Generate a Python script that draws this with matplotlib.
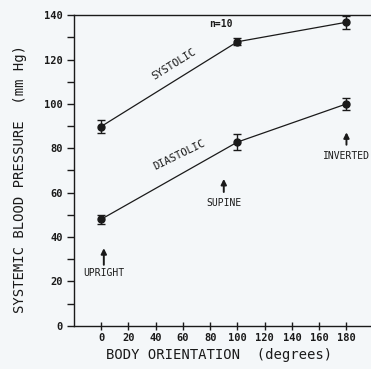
import matplotlib
matplotlib.use('Agg')
from matplotlib import pyplot as plt
from matplotlib.ticker import MultipleLocator

# body orientation (degrees) and mean +/- error for each pressure
angle = [0, 100, 180]
systolic = [89.8, 128.0, 136.8]
systolic_err = [3.0, 1.5, 3.0]
diastolic = [48.0, 82.8, 100.0]
diastolic_err = [2.0, 3.5, 2.8]

x_ticks = [0, 20, 40, 60, 80, 100, 120, 140, 160, 180]
y_ticks = [0, 20, 40, 60, 80, 100, 120, 140]

# position labels with their arrows: (text, x, text y, arrow tail y, arrow head y)
positions = [
    ('UPRIGHT', 2, 24, 27.5, 35),
    ('SUPINE', 90, 55.4, 60.3, 66.2),
    ('INVERTED', 180, 76.6, 81.6, 87.2),
]

bg = '#f4f7f9'
ink = '#1a1a1a'
mono = 'DejaVu Sans Mono'

fig = plt.figure(figsize=(3.71, 3.69), dpi=100, facecolor=bg)
ax = fig.add_axes([0.199, 0.117, 0.801, 0.842], facecolor=bg)

ax.errorbar(angle, systolic, yerr=systolic_err, color=ink, marker='o',
            markersize=5, linewidth=0.9, elinewidth=1.0, capsize=3)
ax.errorbar(angle, diastolic, yerr=diastolic_err, color=ink, marker='o',
            markersize=5, linewidth=0.9, elinewidth=1.0, capsize=3)

ax.text(88, 135.8, 'n=10', fontsize=7, family=mono, fontweight='bold',
        ha='center', va='center', color=ink)
ax.text(53.5, 117.8, 'SYSTOLIC', fontsize=7.5, family=mono, rotation=32,
        ha='center', va='center', color=ink)
ax.text(57.5, 77, 'DIASTOLIC', fontsize=7.5, family=mono, rotation=26,
        ha='center', va='center', color=ink)

for label, x, ty, y0, y1 in positions:
    ax.annotate('', xy=(x, y1), xytext=(x, y0),
                arrowprops=dict(arrowstyle='-|>', color=ink, lw=1.4,
                                mutation_scale=8, shrinkA=0, shrinkB=0))
    ax.text(x, ty, label, fontsize=7, family=mono, ha='center', va='center',
            color=ink)

ax.set_xlim(-20, 198)
ax.set_ylim(0, 140)
ax.set_xticks(x_ticks)
ax.set_yticks(y_ticks)
ax.yaxis.set_minor_locator(MultipleLocator(10))

ax.spines['right'].set_visible(False)
for side in ['left', 'bottom', 'top']:
    ax.spines[side].set_color(ink)
    ax.spines[side].set_linewidth(1.0)

ax.tick_params(axis='both', which='both', color=ink, labelcolor=ink,
               labelsize=7.5, width=1.0)
ax.tick_params(axis='x', which='major', direction='inout', length=6, pad=2)
ax.tick_params(axis='y', which='both', direction='out', length=5, pad=3)
for lab in ax.get_xticklabels() + ax.get_yticklabels():
    lab.set_fontweight('bold')
    lab.set_family(mono)

ax.set_xlabel('BODY ORIENTATION  (degrees)', fontsize=10, family=mono,
              color=ink)
ax.set_ylabel('SYSTEMIC BLOOD PRESSURE  (mm Hg)', fontsize=10, family=mono,
              color=ink)
ax.xaxis.set_label_coords(0.49, -0.072)
ax.yaxis.set_label_coords(-0.158, 0.474)

fig.savefig('out.png', dpi=100, facecolor=bg)
